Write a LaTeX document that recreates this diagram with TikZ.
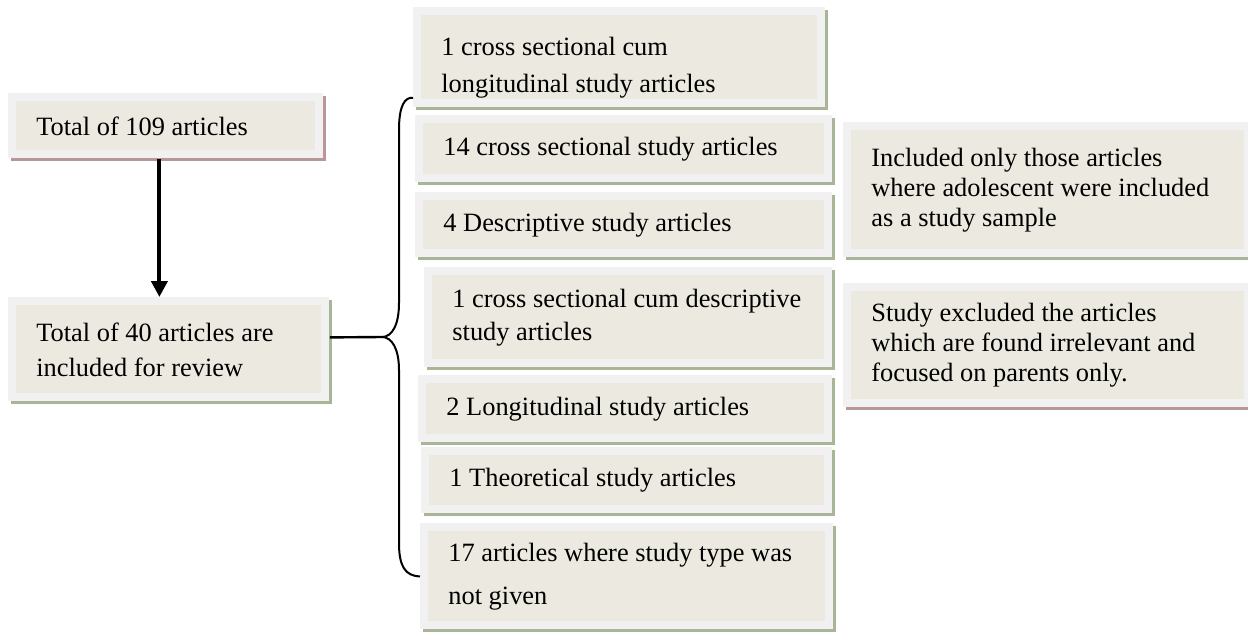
\documentclass[tikz,border=0pt]{standalone}
\usepackage{fontspec}
\setmainfont{Liberation Serif}
\usetikzlibrary{shadows, arrows.meta}
\definecolor{panelrim}{HTML}{F1F1F1}
\definecolor{panelfill}{HTML}{ECEAE0}
\definecolor{shadegreen}{HTML}{A9B597}
\definecolor{shadered}{HTML}{B99797}

\begin{document}
\begin{tikzpicture}
    [
        x=0.5pt, y=-0.5pt,
        panel/.style = {shape=rectangle, anchor=north west, fill=panelrim, inner xsep=14pt, inner ysep=0pt, align=flush left, font=\fontsize{13.2pt}{15pt}\selectfont,
            execute at begin node={\spaceskip=0pt\xspaceskip=0pt\hyphenpenalty=10000},
            path picture={\fill[panelfill] ([shift={(4pt,-4pt)}]path picture bounding box.north west) rectangle ([shift={(-4pt,4pt)}]path picture bounding box.south east);},
            drop shadow={shadow xshift=1.5pt, shadow yshift=-1.5pt, fill=#1, opacity=1}},
        panel/.default = shadegreen,
        flow/.style = {line width=2pt, -{Triangle[length=8pt, width=8pt]}},
        brace/.style = {line width=1pt},
    ]

    \useasboundingbox (0,0) rectangle (1248,632);

    \node[panel=shadered, text width=129.5pt, minimum height=32.5pt] (total109) at (8,93)  {Total of 109 articles};
    \node[panel, text width=132.5pt, minimum height=52pt]             (total40)  at (8,297) {Total of 40 articles are\\[2.5pt] included for review};

    \node[panel, text width=178pt,   minimum height=50pt, text height=19pt] (t1) at (413,7)   {1 cross sectional cum\\[3.5pt] longitudinal study articles};
    \node[panel, text width=180.5pt, minimum height=33.5pt] (t2) at (415,115) {14 cross sectional study articles};
    \node[panel, text width=180.5pt, minimum height=32.5pt] (t3) at (415,192) {4 Descriptive study articles};
    \node[panel, text width=176pt,   minimum height=50pt]   (t4) at (424,267) {1 cross sectional cum descriptive\\[1.5pt] study articles};
    \node[panel, text width=179pt,   minimum height=33.5pt] (t5) at (418,375) {2 Longitudinal study articles};
    \node[panel, text width=177.5pt, minimum height=33pt]   (t6) at (421,447) {1 Theoretical study articles};
    \node[panel, text width=178.5pt, minimum height=53pt]   (t7) at (420,523) {17 articles where study type was\\[6.5pt] not given};

    \node[panel, text width=176.5pt, minimum height=67.5pt]          (incl) at (843,122) {Included only those articles\\ where adolescent were included\\ as a study sample};
    \node[panel=shadered, text width=176.5pt, minimum height=62pt]   (excl) at (843,283) {Study excluded the articles\\ which are found irrelevant and\\ focused on parents only.};

    \coordinate (fork) at (382,337);

    \draw[flow] ([xshift=-3.25pt]total109.south) -- ([xshift=-3.25pt]total109.south |- total40.north);

    \draw[line width=1.2pt] ([yshift=6pt]total40.east) -- (fork);
    \draw[brace] (fork) .. controls (392,337) and (399,325) .. (399,303) -- (399,130) .. controls (399,105) and (405,97) .. ([yshift=5pt]t1.south west);
    \draw[brace] (fork) .. controls (392,337) and (399,349) .. (399,370) -- (399,543) .. controls (399,566) and (405,576) .. (t7.west);
\end{tikzpicture}
\end{document}
